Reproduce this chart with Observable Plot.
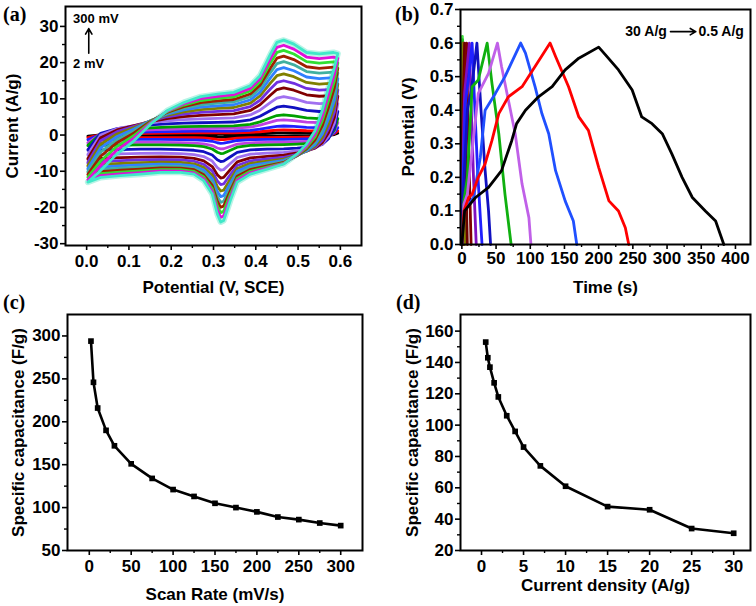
<!DOCTYPE html>
<html><head><meta charset="utf-8">
<script src="https://cdn.jsdelivr.net/npm/d3@7"></script>
<script src="https://cdn.jsdelivr.net/npm/@observablehq/plot@0.6"></script>
<style>
body{margin:0;background:#fff;}
#wrap{position:relative;width:756px;height:606px;overflow:hidden;background:#fff;}
.panel{position:absolute;}
.plabel{position:absolute;font-family:"Liberation Serif","Times New Roman",serif;font-weight:bold;font-size:20px;line-height:20px;color:#000;}
</style></head><body>
<div id="wrap">
  <div class="panel" id="pa" style="left:0;top:0"></div>
  <div class="panel" id="pb" style="left:378px;top:0"></div>
  <div class="panel" id="pc" style="left:0;top:300px"></div>
  <div class="panel" id="pd" style="left:378px;top:300px"></div>
  <div class="plabel" style="left:3px;top:4px">(a)</div>
  <div class="plabel" style="left:395px;top:4px">(b)</div>
  <div class="plabel" style="left:3px;top:292px">(c)</div>
  <div class="plabel" style="left:396px;top:292px">(d)</div>
</div>
<script>
// ---------- (a) cyclic voltammetry ----------
const cvScanRates = [2, 5, 10, 20, 30, 50, 75, 100, 125, 150, 175, 200, 225, 250, 275, 300];
const cvAnodicPeaks = [0.6, 1.4, 2.5, 4.2, 5.6, 8.0, 10.6, 13.0, 15.0, 16.9, 18.6, 20.3, 21.8, 23.4, 24.8, 26.2];
const cvColors = ["#000000", "#ff0000", "#2020ff", "#c040e0", "#00a000", "#1010c0", "#a070f0", "#800000",
                  "#7030e0", "#808000", "#3080ff", "#40b0a0", "#a02000", "#30e030", "#e010d8", "#40e8c8"];
// sampled potentials of a loop: anodic sweep then cathodic sweep
const cvPotential = [0.003, 0.033, 0.072, 0.112, 0.151, 0.19, 0.23, 0.27, 0.31, 0.348, 0.387, 0.41, 0.435, 0.45, 0.466, 0.49, 0.52, 0.55, 0.584, 0.594,
                     0.586, 0.572, 0.557, 0.54, 0.52, 0.498, 0.466, 0.427, 0.387, 0.356, 0.34, 0.324, 0.317, 0.309, 0.297, 0.277, 0.254, 0.222, 0.175, 0.128, 0.08, 0.033, 0.003];
// outermost loop (300 mV/s)
const cvCurrent300 = [-13, -9.8, -5.2, -1.6, 3, 6.7, 9, 10.6, 11.3, 11.8, 13.6, 16.4, 22.4, 25.6, 26.2, 25.1, 22.8, 22.4, 22.8, 22.5,
                      18.7, 13.2, 6.7, 1.2, -2.5, -5.2, -8, -9.4, -10.8, -13, -18, -23.6, -24, -21.8, -16.3, -12.6, -10.8, -10.3, -10.3, -10.8, -11.2, -11.7, -13];
// an inner loop (50 mV/s)
const cvCurrent50 = [-4, 0.5, 1.8, 2.4, 2.8, 3.1, 3.3, 3.4, 3.5, 3.6, 4.2, 5.2, 6.8, 7.7, 8.0, 7.6, 6.8, 6.5, 6.6, 6.5,
                     2.0, -1.0, -2.6, -3.2, -3.4, -3.6, -3.8, -3.9, -4.1, -4.8, -6.0, -7.2, -7.3, -6.8, -5.5, -4.6, -4.2, -4.0, -3.9, -3.9, -4.0, -4.1, -4.2];
const cvAnnotations = [{x: -0.032, y: 32.2, t: "300 mV"}, {x: -0.032, y: 19.8, t: "2 mV"}];
const cvArrow = [{x1: 0.005, y1: 22.6, x2: 0.005, y2: 29.4}];

// ---------- (b) galvanostatic charge-discharge ----------
const gcdCurrentDensities = [0.5, 0.75, 1, 1.5, 2, 3, 4, 5, 7, 10, 15, 20, 25, 30];
const gcdColors = ["#000000", "#ff0000", "#2050ff", "#c060e8", "#10b010", "#1010c0", "#2020ff", "#8010c0", "#800000", "#6a0000", "#808000", "#800000", "#20c020", "#40e040"];
const gcdTimes = [
  [0, 4, 12, 20, 39, 58, 73, 80, 93, 112, 132, 151, 171, 200, 210, 229, 249, 263, 278, 293, 307, 322, 337, 356, 371, 383],
  [0, 3, 10, 15, 24, 34, 44, 54, 68, 88, 107, 129, 137, 156, 171, 185, 200, 215, 229, 239, 244],
  [0, 3, 10, 17, 27, 34, 49, 63, 86, 93, 107, 117, 127, 137, 151, 163, 168],
  [0, 3, 8, 15, 24, 39, 52, 58, 68, 78, 88, 98, 101],
  [0, 3, 8, 15, 24, 37, 44, 54, 63, 72],
  [0, 2, 8, 14, 22, 28, 34, 39, 42],
  [0, 1, 5, 10, 15, 18, 23, 27, 29.5],
  [0, 1, 4, 11, 13, 17, 21],
  [0, 0.8, 3, 7, 8.5, 11, 13.5],
  [0, 0.5, 4, 5, 6.5, 8],
  [0, 0.4, 2.2, 3, 4.2],
  [0, 0.3, 1.6, 2.2, 3],
  [0, 0.2, 1, 1.4, 1.9],
  [0, 0.1, 0.7, 1, 1.4]
];
const gcdPotentials = [
  [0, 0.1, 0.12, 0.14, 0.17, 0.22, 0.31, 0.36, 0.40, 0.44, 0.47, 0.52, 0.555, 0.588, 0.565, 0.52, 0.46, 0.38, 0.36, 0.33, 0.27, 0.2, 0.14, 0.10, 0.07, 0],
  [0, 0.1, 0.14, 0.15, 0.2, 0.24, 0.31, 0.39, 0.44, 0.47, 0.53, 0.6, 0.56, 0.47, 0.38, 0.34, 0.23, 0.13, 0.1, 0.05, 0],
  [0, 0.1, 0.12, 0.14, 0.26, 0.4, 0.45, 0.5, 0.6, 0.57, 0.47, 0.39, 0.33, 0.22, 0.13, 0.07, 0],
  [0, 0.12, 0.15, 0.28, 0.45, 0.51, 0.6, 0.53, 0.43, 0.33, 0.18, 0.08, 0],
  [0, 0.13, 0.2, 0.47, 0.49, 0.6, 0.48, 0.33, 0.15, 0],
  [0, 0.15, 0.4, 0.46, 0.6, 0.4, 0.22, 0.1, 0],
  [0, 0.15, 0.42, 0.5, 0.6, 0.45, 0.22, 0.08, 0],
  [0, 0.2, 0.45, 0.6, 0.45, 0.2, 0],
  [0, 0.25, 0.45, 0.6, 0.4, 0.2, 0],
  [0, 0.3, 0.6, 0.35, 0.15, 0],
  [0, 0.3, 0.6, 0.33, 0],
  [0, 0.3, 0.6, 0.3, 0],
  [0, 0.3, 0.61, 0.3, 0],
  [0, 0.3, 0.62, 0.3, 0]
];
const gcdAnnotations = [{x: 239, y: 0.634, t: "30 A/g"}, {x: 346, y: 0.634, t: "0.5 A/g"}];
const gcdArrow = [{x1: 305, y1: 0.634, x2: 342, y2: 0.634}];

// ---------- (c) capacitance vs scan rate ----------
const scanRates = [2, 5, 10, 20, 30, 50, 75, 100, 125, 150, 175, 200, 225, 250, 275, 300];
const capVsScan = [294, 246, 216, 190, 172, 151, 134, 121, 113, 105, 100, 95, 89, 86, 82, 79];

// ---------- (d) capacitance vs current density ----------
const currentDensities = [0.5, 0.75, 1, 1.5, 2, 3, 4, 5, 7, 10, 15, 20, 25, 30];
const capVsCurrent = [153, 143, 137, 127, 118, 106, 96, 86, 74, 61, 48, 46, 34, 31];

// ---------- tick labels ----------
const aXTicks = [0, 0.1, 0.2, 0.3, 0.4, 0.5, 0.6];
const aXMinor = [0.05, 0.15, 0.25, 0.35, 0.45, 0.55];
const aYTicks = [-30, -20, -10, 0, 10, 20, 30];
const aYMinor = [-25, -15, -5, 5, 15, 25];
const bXTicks = [0, 50, 100, 150, 200, 250, 300, 350, 400];
const bXMinor = [25, 75, 125, 175, 225, 275, 325, 375];
const bYTicks = [0, 0.1, 0.2, 0.3, 0.4, 0.5, 0.6, 0.7];
const bYMinor = [0.05, 0.15, 0.25, 0.35, 0.45, 0.55, 0.65];
const cXTicks = [0, 50, 100, 150, 200, 250, 300];
const cXMinor = [25, 75, 125, 175, 225, 275];
const cYTicks = [50, 100, 150, 200, 250, 300];
const cYMinor = [75, 125, 175, 225, 275];
const dXTicks = [0, 5, 10, 15, 20, 25, 30];
const dXMinor = [2.5, 7.5, 12.5, 17.5, 22.5, 27.5];
const dYTicks = [20, 40, 60, 80, 100, 120, 140, 160];
const dYMinor = [30, 50, 70, 90, 110, 130, 150];

const FONT = "'Liberation Sans', Arial, Helvetica, sans-serif";
const baseStyle = {fontFamily: FONT, fontSize: "17px", fontWeight: "bold", color: "#000", background: "transparent", overflow: "visible"};
const fmtSigned = d => (d < 0 ? "-" : "") + Math.abs(d);
const fmt1 = d => d.toFixed(1);

function axes(o) {
  return [
    Plot.axisX(o.xt, {tickSize: 5, tickPadding: o.xpad ?? 4, tickFormat: o.xf || (d => String(d)), strokeWidth: 1.6, label: null, fontWeight: "bold", fontSize: 17}),
    Plot.axisX(o.xm, {tickSize: 3, tickFormat: () => "", strokeWidth: 1.4, label: null}),
    Plot.axisY(o.yt, {tickSize: 5, tickPadding: 2, tickFormat: o.yf || (d => String(d)), strokeWidth: 1.6, label: null, fontWeight: "bold", fontSize: 17}),
    Plot.axisY(o.ym, {tickSize: 3, tickFormat: () => "", strokeWidth: 1.4, label: null}),
    Plot.frame({stroke: "#000", strokeWidth: 2}),
    Plot.text([o.xlabel], {frameAnchor: "bottom", dy: o.xdy, textAnchor: "middle", lineAnchor: "middle", fontSize: 17, fontWeight: "bold"}),
    Plot.text([o.ylabel], {frameAnchor: "left", dx: o.ydx, rotate: -90, textAnchor: "middle", lineAnchor: "middle", fontSize: 17, fontWeight: "bold"})
  ];
}

// (a) data: each loop follows the two read loops, matched to its read anodic peak
const pOuter = d3.max(cvCurrent300), pInner = d3.max(cvCurrent50);
const cvData = [];
cvScanRates.forEach((r, i) => {
  const p = cvAnodicPeaks[i];
  const w = p <= pInner ? 0 : (p - pInner) / (pOuter - pInner);
  cvPotential.forEach((v, j) => {
    const shape = (1 - w) * cvCurrent50[j] / pInner + w * cvCurrent300[j] / pOuter;
    cvData.push({rate: r, v, cur: shape * p, color: cvColors[i]});
  });
});
const outerRate = cvScanRates[cvScanRates.length - 1];

const plotA = Plot.plot({
  width: 378, height: 300, marginLeft: 65, marginRight: 17, marginTop: 6, marginBottom: 55,
  style: baseStyle,
  x: {domain: [-0.05, 0.65]},
  y: {domain: [-30.5, 35.5]},
  marks: [
    Plot.line(cvData.filter(d => d.rate === outerRate), {x: "v", y: "cur", stroke: "#b8f4e6", strokeWidth: 6, strokeLinejoin: "round"}),
    Plot.line(cvData, {x: "v", y: "cur", z: "rate", stroke: "color", strokeWidth: 2.8, strokeLinejoin: "round"}),
    Plot.text(cvAnnotations, {x: "x", y: "y", text: "t", textAnchor: "start", fontSize: 13, fontWeight: "bold"}),
    Plot.arrow(cvArrow, {x1: "x1", y1: "y1", x2: "x2", y2: "y2", stroke: "#000", strokeWidth: 1.6, headLength: 6}),
    ...axes({xt: aXTicks, xm: aXMinor, yt: aYTicks, ym: aYMinor, xf: fmt1, yf: fmtSigned,
             xlabel: "Potential (V, SCE)", xdy: 42, ylabel: "Current (A/g)", ydx: -53})
  ]
});
document.getElementById("pa").append(plotA);

// (b) data
const gcdData = [];
for (let i = gcdCurrentDensities.length - 1; i >= 0; i--) {
  gcdTimes[i].forEach((t, j) => gcdData.push({cd: gcdCurrentDensities[i], t, v: gcdPotentials[i][j], color: gcdColors[i]}));
}
const plotB = Plot.plot({
  width: 378, height: 300, marginLeft: 82, marginRight: 6, marginTop: 9, marginBottom: 56,
  style: baseStyle,
  x: {domain: [-2, 422]},
  y: {domain: [0, 0.7]},
  marks: [
    Plot.line(gcdData, {x: "t", y: "v", z: "cd", stroke: "color", strokeWidth: 2.8, strokeLinejoin: "round"}),
    Plot.text(gcdAnnotations, {x: "x", y: "y", text: "t", textAnchor: "start", fontSize: 14, fontWeight: "bold"}),
    Plot.arrow(gcdArrow, {x1: "x1", y1: "y1", x2: "x2", y2: "y2", stroke: "#000", strokeWidth: 1.6, headLength: 6}),
    ...axes({xt: bXTicks, xm: bXMinor, yt: bYTicks, ym: bYMinor, xpad: 2, yf: fmt1,
             xlabel: "Time (s)", xdy: 43, ylabel: "Potential (V)", ydx: -52})
  ]
});
document.getElementById("pb").append(plotB);

// (c)
const scanData = scanRates.map((r, i) => ({r, c: capVsScan[i]}));
const plotC = Plot.plot({
  width: 378, height: 306, marginLeft: 67, marginRight: 16, marginTop: 14, marginBottom: 56,
  style: baseStyle,
  x: {domain: [-26, 326]},
  y: {domain: [50, 325]},
  marks: [
    Plot.line(scanData, {x: "r", y: "c", stroke: "#000", strokeWidth: 2.6}),
    Plot.dot(scanData, {x: "r", y: "c", symbol: "square", r: 3.2, fill: "#000"}),
    ...axes({xt: cXTicks, xm: cXMinor, yt: cYTicks, ym: cYMinor,
             xlabel: "Scan Rate (mV/s)", xdy: 44, ylabel: "Specific capacitance (F/g)", ydx: -49})
  ]
});
document.getElementById("pc").append(plotC);

// (d)
const cdData = currentDensities.map((j, i) => ({j, c: capVsCurrent[i]}));
const plotD = Plot.plot({
  width: 378, height: 306, marginLeft: 82, marginRight: 6, marginTop: 14, marginBottom: 56,
  style: baseStyle,
  x: {domain: [-2.5, 32]},
  y: {domain: [20, 170.6]},
  marks: [
    Plot.line(cdData, {x: "j", y: "c", stroke: "#000", strokeWidth: 2.6}),
    Plot.dot(cdData, {x: "j", y: "c", symbol: "square", r: 3.2, fill: "#000"}),
    ...axes({xt: dXTicks, xm: dXMinor, yt: dYTicks, ym: dYMinor,
             xlabel: "Current density (A/g)", xdy: 35, ylabel: "Specific capacitance (F/g)", ydx: -48})
  ]
});
document.getElementById("pd").append(plotD);
</script>
</body></html>
